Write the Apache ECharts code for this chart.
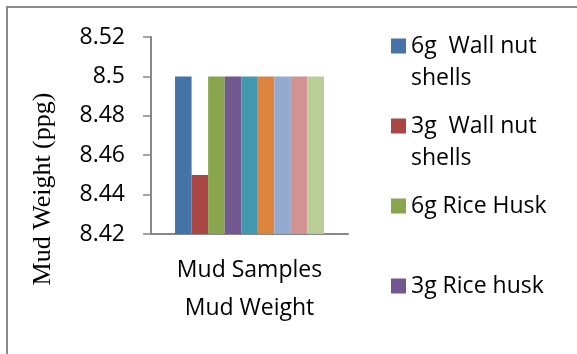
<!DOCTYPE html>
<html>
<head>
<meta charset="utf-8">
<script src="https://cdn.jsdelivr.net/npm/echarts@6/dist/echarts.min.js"></script>
<style>
  html, body { margin: 0; padding: 0; background: #fff; }
  #chart { width: 577px; height: 354px; }
</style>
</head>
<body>
<div id="chart"></div>
<script>
// Mud weight of each sample (ppg)
const categories = ['Mud Samples'];
const seriesNames = [
  '6g  Wall nut\nshells',
  '3g  Wall nut\nshells',
  '6g Rice Husk',
  '3g Rice husk',
  'Sample 5',
  'Sample 6',
  'Sample 7',
  'Sample 8',
  'Sample 9'
];
const seriesValues = [8.5, 8.45, 8.5, 8.5, 8.5, 8.5, 8.5, 8.5, 8.5];
const legendNames = seriesNames.slice(0, 4);
const yTicks = { min: 8.42, max: 8.52, interval: 0.02 };
const colors = ['#4572A7', '#AA4643', '#89A54E', '#71588F', '#4198AF',
                '#DB843D', '#93A9CF', '#D19392', '#B9CD96'];

const chart = echarts.init(document.getElementById('chart'));
const axisGray = '#878787';
const sans = '"Open Sans"';

chart.setOption({
  animation: false,
  color: colors,
  grid: { left: 151, right: 229, top: 37, bottom: 120, containLabel: false },
  legend: {
    orient: 'vertical',
    left: 391,
    top: -2,
    padding: 0,
    itemWidth: 15,
    itemHeight: 15,
    itemGap: -16,
    icon: 'rect',
    data: legendNames,
    // each entry takes three lines so the swatch sits beside its first line
    formatter: name => '\n' + name + (name.indexOf('\n') >= 0 ? '' : '\n\u00a0'),
    textStyle: {
      fontFamily: sans,
      fontSize: 23,
      color: '#000',
      lineHeight: 32
    }
  },
  xAxis: {
    type: 'category',
    data: categories,
    name: 'Mud Weight',
    nameLocation: 'middle',
    nameGap: 63,
    nameTextStyle: { fontFamily: sans, fontSize: 23, color: '#000' },
    axisLine: { lineStyle: { color: axisGray, width: 2 } },
    axisTick: { show: false },
    axisLabel: { fontFamily: sans, fontSize: 23, color: '#000', margin: 25 }
  },
  yAxis: {
    type: 'value',
    min: yTicks.min,
    max: yTicks.max,
    interval: yTicks.interval,
    axisLine: { show: true, lineStyle: { color: axisGray, width: 2 } },
    axisTick: { show: true, length: 8, lineStyle: { color: axisGray, width: 1.5 } },
    splitLine: { show: false },
    axisLabel: {
      fontFamily: sans, fontSize: 23, color: '#000', margin: 26,
      formatter: v => String(parseFloat(v.toFixed(2)))
    }
  },
  series: seriesNames.map((name, i) => ({
    name: name,
    type: 'bar',
    data: [seriesValues[i]],
    barGap: '0%',
    barCategoryGap: '24.4%'
  })),
  graphic: [
    {
      type: 'rect',
      shape: { x: 7, y: 7, width: 620, height: 400 },
      style: { fill: 'none', stroke: '#8a8a8a', lineWidth: 2 },
      silent: true
    },
    {
      type: 'text',
      x: 43,
      y: 189,
      rotation: Math.PI / 2,
      style: {
        text: 'Mud Weight (ppg)',
        font: '26px "Liberation Serif"',
        fill: '#000',
        textAlign: 'center',
        textVerticalAlign: 'middle',
        align: 'center',
        verticalAlign: 'middle'
      }
    }
  ]
});
</script>
</body>
</html>
